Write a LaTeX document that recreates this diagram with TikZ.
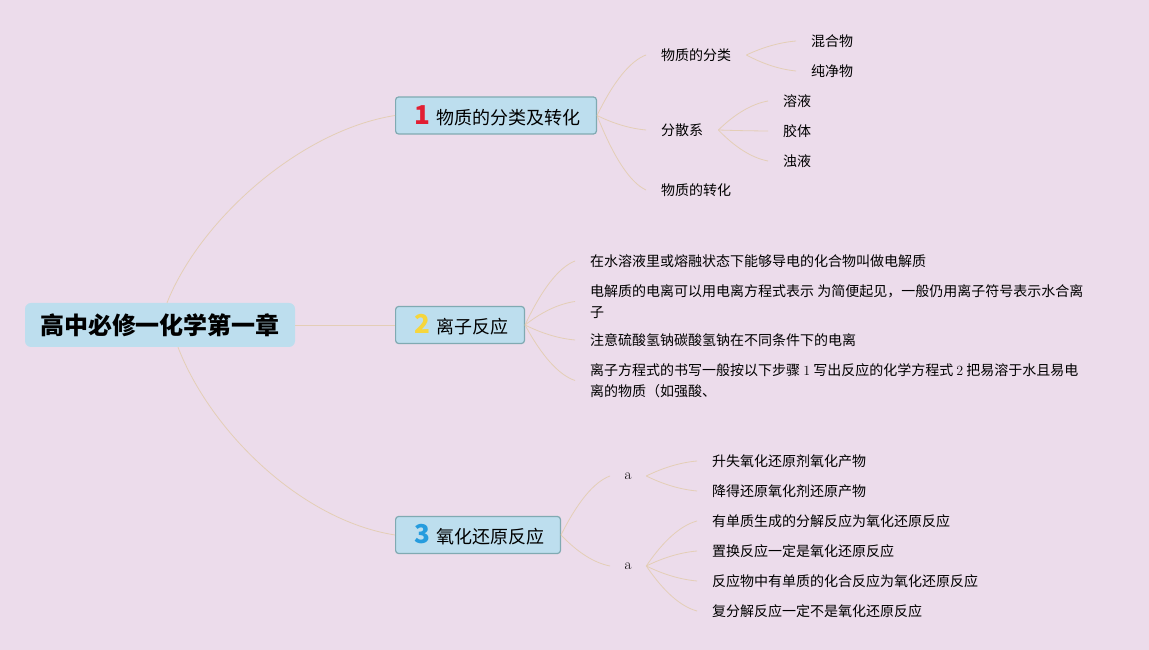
\documentclass[tikz,border=0pt]{standalone}
\usepackage{fontspec}
\newfontfamily\cjk{Noto Sans CJK SC}
\usetikzlibrary{calc}
\definecolor{bgpink}{RGB}{236,220,235}
\definecolor{boxblue}{RGB}{189,222,238}
\definecolor{topicline}{RGB}{128,170,178}
\definecolor{linktan}{RGB}{228,206,182}
\definecolor{numred}{RGB}{226,30,50}
\definecolor{numyellow}{RGB}{246,214,60}
\definecolor{numblue}{RGB}{38,156,222}
\newcommand\topicnum[2]{\hspace{3pt}\textcolor{#1}{\bfseries\fontsize{26}{26}\selectfont #2}\hspace{6pt}}

\begin{document}
\begin{tikzpicture}[
    x=1pt, y=1pt,
    root/.style={fill=boxblue, rounded corners=6pt, minimum width=270pt, minimum height=44pt,
      font=\cjk\bfseries\fontsize{24}{28}\selectfont},
    topic/.style={draw=topicline, fill=boxblue, line width=1.2pt, rounded corners=3pt,
      minimum height=37pt, inner xsep=16pt, anchor=west, font=\cjk\fontsize{18}{22}\selectfont},
    leaf/.style={anchor=west, inner xsep=15pt, inner ysep=2pt, align=left,
      font=\cjk\fontsize{14}{21}\selectfont},
    letter/.style={leaf, inner xsep=14.5pt, font=\rmfamily\fontsize{15}{21}\selectfont},
    link/.style={draw=linktan, line width=0.8pt},
    curvy/.style={to path={let \p1=(\tikztostart), \p2=(\tikztotarget) in
      .. controls ({\x1+0.33*(\x2-\x1)},{\y1+0.55*(\y2-\y1)})
      and ({\x1+0.67*(\x2-\x1)},{\y1+0.9*(\y2-\y1)}) .. (\tikztotarget)}},
  ]
  \fill[bgpink] (0,0) rectangle (1149,650);
  \useasboundingbox (0,0) rectangle (1149,650);

  \node[root] (root) at (160,325) {高中必修一化学第一章};

  \node[topic] (cls) at (395,534.5) {\topicnum{numred}{1}物质的分类及转化};
  \node[topic] (ion) at (395,325) {\topicnum{numyellow}{2}离子反应};
  \node[topic] (redox) at (395,115) {\topicnum{numblue}{3}氧化还原反应};

  \node[leaf] (sort) at (646,595) {物质的分类};
  \node[leaf] (disp) at (646,520) {分散系};
  \node[leaf] (conv) at (646,460) {物质的转化};
  \node[leaf] (mix) at (796,609) {混合物};
  \node[leaf] (pure) at (796,579) {纯净物};
  \node[leaf] (sol) at (768,549) {溶液};
  \node[leaf] (coll) at (768,519) {胶体};
  \node[leaf] (susp) at (768,489) {浊液};

  \node[leaf] (elec) at (575,389) {在水溶液里或熔融状态下能够导电的化合物叫做电解质};
  \node[leaf] (ionz) at (575,348.5) {电解质的电离可以用电离方程式表示 为简便起见，一般仍用离子符号表示水合离\\子};
  \node[leaf] (salt) at (575,310) {注意硫酸氢钠碳酸氢钠在不同条件下的电离};
  \node[leaf] (eqn) at (575,269.5) {离子方程式的书写一般按以下步骤 {\rmfamily 1} 写出反应的化学方程式 {\rmfamily 2} 把易溶于水且易电\\离的物质（如强酸、};

  \node[letter] (a1) at (610,174) {a};
  \node[letter] (a2) at (610,84) {a};
  \node[leaf] (up) at (697,189) {升失氧化还原剂氧化产物};
  \node[leaf] (down) at (697,159) {降得还原氧化剂还原产物};
  \node[leaf] (dec) at (697,129) {有单质生成的分解反应为氧化还原反应};
  \node[leaf] (subs) at (697,99) {置换反应一定是氧化还原反应};
  \node[leaf] (comb) at (697,69) {反应物中有单质的化合反应为氧化还原反应};
  \node[leaf] (dbl) at (697,39) {复分解反应一定不是氧化还原反应};

  \draw[link] ($(root.north)+(7,0)$) .. controls +(33,83) and +(-95,-15) .. (cls.west);
  \draw[link] (root.east) -- (ion.west);
  \draw[link] ($(root.south)+(18,0)$) .. controls +(32,-83) and +(-95,15) .. (redox.west);

  \draw[link] (cls.east) to[curvy] (sort.west);
  \draw[link] (cls.east) to[curvy] (disp.west);
  \draw[link] (cls.east) to[curvy] (conv.west);
  \draw[link] (sort.east) to[curvy] (mix.west);
  \draw[link] (sort.east) to[curvy] (pure.west);
  \draw[link] (disp.east) to[curvy] (sol.west);
  \draw[link] (disp.east) to[curvy] (coll.west);
  \draw[link] (disp.east) to[curvy] (susp.west);

  \draw[link] (ion.east) to[curvy] (elec.west);
  \draw[link] (ion.east) to[curvy] (ionz.west);
  \draw[link] (ion.east) to[curvy] (salt.west);
  \draw[link] (ion.east) to[curvy] (eqn.west);

  \draw[link] (redox.east) to[curvy] (a1.west);
  \draw[link] (redox.east) to[curvy] (a2.west);
  \draw[link] (a1.east) to[curvy] (up.west);
  \draw[link] (a1.east) to[curvy] (down.west);
  \draw[link] (a2.east) to[curvy] (dec.west);
  \draw[link] (a2.east) to[curvy] (subs.west);
  \draw[link] (a2.east) to[curvy] (comb.west);
  \draw[link] (a2.east) to[curvy] (dbl.west);
\end{tikzpicture}
\end{document}
